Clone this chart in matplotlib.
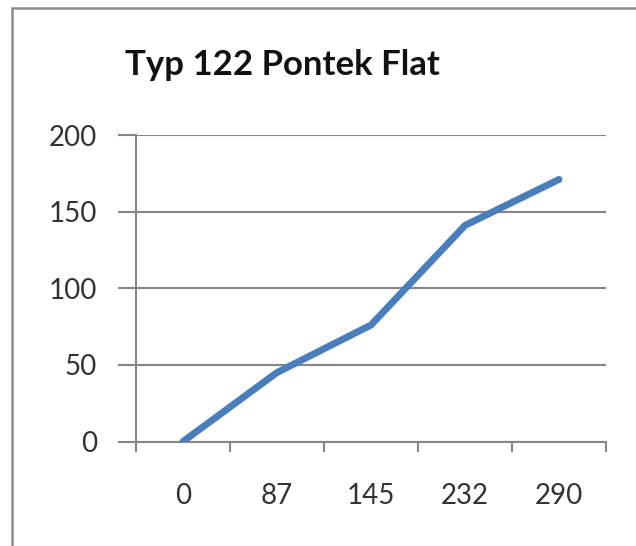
import matplotlib.pyplot as plt
from matplotlib.patches import Rectangle

# data
categories = ["0", "87", "145", "232", "290"]
values = [0, 45, 76, 141, 171]
y_ticks = [0, 50, 100, 150, 200]

plt.rcParams["font.family"] = ["Lato", "DejaVu Sans"]

fig = plt.figure(figsize=(6.36, 5.46), dpi=100)
W, H = 636, 546

# outer chart frame (only top and left edges fall inside the image)
fig.patches.append(
    Rectangle((12 / W, -0.1), 1.2, (H - 8) / H + 0.1, transform=fig.transFigure,
              fill=False, edgecolor="#8c8c8c", linewidth=1.8)
)

left, right, top, bottom = 136, 606, 135, 441.5
ax = fig.add_axes([left / W, 1 - bottom / H, (right - left) / W, (bottom - top) / H])

x = list(range(len(categories)))
ax.plot(x, values, color="#4a7ebb", linewidth=5, solid_capstyle="round",
        solid_joinstyle="round", zorder=3)

ax.set_xlim(-0.5, len(categories) - 0.5)
ax.set_ylim(0, 200)
ax.set_yticks(y_ticks)
ax.set_xticks(x)
ax.set_xticklabels(categories)
ax.set_xticks([i - 0.5 for i in range(len(categories) + 1)], minor=True)

ax.grid(axis="y", color="#868686", linewidth=1.5)
ax.set_axisbelow(True)
for side in ["top", "right"]:
    ax.spines[side].set_visible(False)
for side in ["left", "bottom"]:
    ax.spines[side].set_color("#868686")
    ax.spines[side].set_linewidth(1.5)

ax.tick_params(axis="y", length=13, width=1.5, color="#868686", labelsize=20,
               labelcolor="#333333", pad=15)
ax.tick_params(axis="x", which="major", length=0, labelsize=20,
               labelcolor="#333333", pad=30)
ax.tick_params(axis="x", which="minor", length=7, width=1.5, color="#868686")

fig.text(282 / W, 1 - 65 / H, "Typ 122 Pontek Flat", ha="center", va="center",
         fontsize=25, fontweight="bold", color="#111111")

fig.savefig("out.png", dpi=100)
